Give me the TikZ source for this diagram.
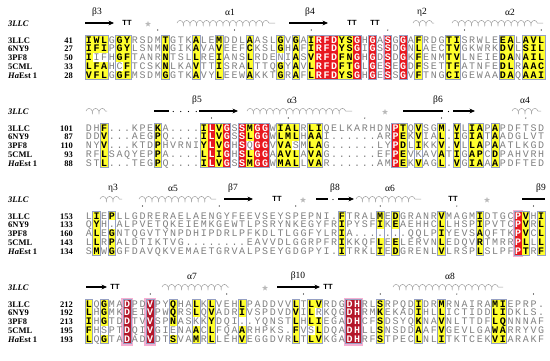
\documentclass[tikz,border=0pt]{standalone}
\usepackage{fontspec}
\setmainfont{Liberation Serif}
\newfontfamily\seqfont{Liberation Mono}
\newfontfamily\ttsans{Liberation Sans}
\usetikzlibrary{decorations.pathmorphing,shapes.geometric,arrows.meta}
\definecolor{ygl}{RGB}{255,255,45}
\definecolor{idred}{RGB}{232,24,32}
\definecolor{idredd}{RGB}{180,22,42}
\definecolor{pinkh}{RGB}{246,175,210}
\definecolor{frm}{RGB}{150,160,195}
\definecolor{gtxt}{RGB}{128,128,128}
\tikzset{
 nres/.style={inner sep=0pt,anchor=base,font=\seqfont\fontsize{10}{10}\selectfont,text=gtxt},
 bres/.style={inner sep=0pt,anchor=base,font=\seqfont\bfseries\fontsize{10}{10}\selectfont,text=black},
 wres/.style={inner sep=0pt,anchor=base,font=\seqfont\bfseries\fontsize{10}{10}\selectfont,text=white},
 namest/.style={inner sep=0pt,anchor=base west,font=\bfseries\fontsize{8.5}{8.5}\selectfont},
 numst/.style={inner sep=0pt,anchor=base east,font=\bfseries\fontsize{8.5}{8.5}\selectfont},
 hlx/.style={gray!75,line width=0.5pt,decorate,decoration={coil,amplitude=2.6pt,segment length=6.6pt,aspect=0.55}},
 strandarrow/.style={line width=1.4pt,-{Stealth[length=5.5pt,width=4.8pt]}},
 strandline/.style={line width=1.4pt},
 sslabel/.style={inner sep=0pt,font=\fontsize{9.5}{9.5}\selectfont},
 ttst/.style={inner sep=0pt,font=\ttsans\bfseries\fontsize{7.5}{7.5}\selectfont},
 starst/.style={star,star points=5,star point ratio=2.3,fill=gray!55,draw=none,inner sep=0pt,minimum size=6pt},
}
\newcount\colidx
\def\rowy{0}
\def\redcol{idred}
\def\drawcell#1#2{%
  \pgfmathsetmacro\cx{85+(\the\colidx-0.5)*7.667}%
  \if.#1\relax
    \node[nres] at (\cx,\rowy+3.0) {.};%
  \else
    \if y#2\relax
      \fill[ygl] (\cx-3.8335,\rowy-4.4) rectangle (\cx+3.8335,\rowy+4.4);%
      \node[bres] at (\cx,\rowy+3.0) {#1};%
    \else\if r#2\relax
      \fill[\redcol] (\cx-3.8335,\rowy-4.4) rectangle (\cx+3.8335,\rowy+4.4);%
      \node[wres] at (\cx,\rowy+3.0) {#1};%
    \else
      \node[nres] at (\cx,\rowy+3.0) {#1};%
    \fi\fi
  \fi}
\def\cellsA#1#2\relax#3#4\relax{%
  \advance\colidx by 1
  \drawcell{#1}{#3}%
  \ifx\relax#2\relax\else\cellsA#2\relax#4\relax\fi}
\newcommand\seqrow[5]{%
  \node[namest] at (8,#1+3) {#2};
  \node[numst] at (73,#1+3) {#3};
  \def\rowy{#1}\colidx=0
  \cellsA#4\relax#5\relax}
\newcommand\frames[2]{%
  \foreach \a/\b in {#2} {\draw[frm,line width=0.5pt] ({85+(\a-1)*7.667},#1-4.4) rectangle ({85+\b*7.667},#1+39.6);}}
\newcommand\halos[3]{%
  \foreach \a/\b in {#2} {\fill[pinkh] ({85+(\a-1)*7.667-#3},#1-4.4-#3) rectangle ({85+\b*7.667+#3},#1+39.6+#3);}}
\newcommand\tendots[2]{%
  \foreach \c in {#2} {\fill ({85+(\c-0.5)*7.667},#1+7) circle (0.6);}}
\begin{document}
\begin{tikzpicture}[x=1pt,y=-1pt]
\useasboundingbox (0,0) rectangle (550,360);
\fill[white] (0,0) rectangle (550,360);
%% ---------------- Block 1
\def\yh{23}
\node[namest,font=\bfseries\itshape\fontsize{8.5}{8.5}\selectfont] (h1) at (8,\yh+3) {3LLC};
\node[sslabel] (l13) at (97,12) {β3};
\draw[strandarrow] (85,\yh) -- (114,\yh);
\node[ttst] (t11) at (127,\yh) {TT};
\node[starst] (s11) at (148,\yh+1) {};
\draw[hlx] (177,\yh) -- (275,\yh);
\node[sslabel] (la1) at (230,12) {α1};
\draw[strandarrow] (289,\yh) -- (328,\yh);
\node[sslabel] (l14) at (310,12) {β4};
\node[ttst] (t12) at (352,\yh) {TT};
\node[ttst] (t13) at (375,\yh) {TT};
\draw[hlx] (413,\yh) -- (434,\yh);
\node[sslabel] (le2) at (422,12) {η2};
\draw[hlx] (452,\yh) -- (543,\yh);
\node[sslabel] (la2) at (510,12) {α2};
\tendots{\yh}{10,20,30,40,50,60}
\def\redcol{idred}
\halos{40}{31/33,36/36,38/38,40/40,42/42}{0.8}
\seqrow{40}{3LLC}{41}{IWLGGYRSDM TGTKALEMDD LAASLGVGAI RFDYSGHGAS GGAFRDGTIS RWLEEALAVL}{yyynyynnnn ynnnynnynn nynnnynyny rrryyrnrnr nrnynnnyyn nnnnyynyyy}
\seqrow{48.8}{6NY9}{27}{IFIPGYLSNM NGIKAVAVEE FCKSLGHAFI RFDYSGIGSS DGNLAECTVG KWRKDVLSIL}{yyynyynnnn ynnnynnynn nynnnynyny rrryyrnrnr nrnynnnyyn nnnnyynyyy}
\seqrow{57.6}{3PF8}{50}{IIFHGFTANR NTSLLREIAN SLRDENIASV RFDFNGHGDS DGKFENMTVL NEIEDANAIL}{ynnnyynnnn ynnnynnynn nynnnnnyny rrryyrnrnr nrnynnnyyn nnnnyynyyy}
\seqrow{66.4}{5CML}{33}{LFAHCFTCSK NLKAVTTISR ALTTQGYAVL RFDFTGLGES EGDFSETTFA TNFEDLRAAC}{yyynnynnnn ynnnynnynn nynnnynyny rrryyrnrnr nrnynnnyyn nnnnyynyyy}
\seqrow{75.2}{\textit{Ha}Est 1}{28}{VFLGGFMSDM GGTKAVYLEE WAKKTGRAFL RFDYSGHGES SGVFTNGCIG EWAADAQAAI}{yyynyynnnn ynnnynnynn nynnnynyny rrryyrnrnr nrnynnnyyn nnnnyynyyy}
\frames{40}{1/3,5/6,11/11,15/15,18/18,22/22,26/26,28/28,30/36,38/38,40/40,42/42,44/44,48/49,55/56,58/60}
%% ---------------- Block 2
\def\yh{111}
\node[namest,font=\bfseries\itshape\fontsize{8.5}{8.5}\selectfont] (h2) at (8,\yh+3) {3LLC};
\draw[hlx] (86,\yh) -- (107,\yh);
\draw[strandline] (154,\yh) -- (169,\yh);
\foreach \c in {12,...,15} {\fill ({85+(\c-0.5)*7.667},\yh+0.5) circle (0.6);}
\draw[strandarrow] (199,\yh) -- (238,\yh);
\node[sslabel] (l25) at (197,100) {β5};
\draw[hlx] (247,\yh) -- (352,\yh);
\node[sslabel] (la3) at (292,100) {α3};
\node[starst] (s21) at (385,\yh+1) {};
\draw[strandline] (403,\yh) -- (443,\yh);
\fill (448.5,\yh+0.5) circle (0.6);
\draw[strandarrow] (453,\yh) -- (475,\yh);
\node[sslabel] (l26) at (438,100) {β6};
\draw[hlx] (512,\yh) -- (541,\yh);
\node[sslabel] (la4) at (525,100) {α4};
\tendots{\yh}{17,27,37,47,58}
\halos{128}{17/17,19/19,21/21,23/24,41/41}{0.8}
\seqrow{128}{3LLC}{101}{DHF...KPEK A....ILVGS SMGGWIALRL IQELKARHDN PTQVSGM.VL IAPAPDFTSD}{nnynnnnnny nnnnnyryrn ryrrnyyyny ynnnnnnnnn rynynnynyn yynynnnnnn}
\seqrow{136.8}{6NY9}{87}{DDV...AEGP Q....ILVGS SLGGWLMLHA AI......AR PEKVIAL.IG IATAADGLVT}{nnynnnnnny nnnnnyryrn ryrrnyyyny ynnnnnnnnn rynynnynyn yynynnnnnn}
\seqrow{145.6}{3PF8}{110}{NYV...KTDP HVRNIYLVGH SQGGVVASML AG......LY PDLIKKV.VL LAPAATLKGD}{nnynnnnnny nnnnnyryrn rnrrnyynny ynnnnnnnnn rynynnynyn yynynnnnnn}
\seqrow{154.4}{5CML}{93}{RFLSAQYEPP A....LLIGH SLGGAAVLAV AG......EF PEVKAVATIG APCDPAHVRH}{nnynnnnnny nnnnnyryrn ryrrnyyyny ynnnnnnnnn rynnnnynyn yynynnnnnn}
\seqrow{163.2}{\textit{Ha}Est 1}{88}{STL...TEGP Q....ILVGS SMGGWMALLV AR......AM PEKVAGL.VG IAAAPDFTED}{nnynnnnnny nnnnnyryrn ryrrnyyyny ynnnnnnnnn rynynnynyn yynynnnnnn}
\frames{128}{3/3,10/10,16/19,21/24,26/28,30/31,41/42,44/44,47/47,49/49,51/52,54/54}
%% ---------------- Block 3
\def\yh{199}
\node[namest,font=\bfseries\itshape\fontsize{8.5}{8.5}\selectfont] (h3) at (8,\yh+3) {3LLC};
\draw[hlx] (100,\yh) -- (122,\yh);
\node[sslabel] (le3) at (113,188) {η3};
\draw[hlx] (139,\yh) -- (216,\yh);
\node[sslabel] (la5) at (173,188) {α5};
\draw[strandarrow] (224,\yh) -- (253,\yh);
\node[sslabel] (l37) at (233,188) {β7};
\node[ttst] (t31) at (277,\yh) {TT};
\node[starst] (s31) at (303,\yh+1) {};
\draw[strandline] (316,\yh) -- (328,\yh);
\fill (333,\yh+0.5) circle (0.6);
\draw[strandarrow] (338,\yh) -- (354,\yh);
\node[sslabel] (l38) at (335,188) {β8};
\draw[hlx] (356,\yh) -- (421,\yh);
\node[sslabel] (la6) at (390,188) {α6};
\node[ttst] (t32) at (453,\yh) {TT};
\node[starst] (s32) at (487,\yh+1) {};
\draw[strandline] (522,\yh) -- (545,\yh);
\node[sslabel] (l39) at (541,188) {β9};
\tendots{\yh}{8,18,28,39,49,59}
\halos{216}{57/57}{1.4}
\seqrow{216}{3LLC}{153}{LIEPLLGDRE RAELAENGYF EEVSEYSPEP NI.FTRALME DGRANRVMAG MIDTGCPVHI}{nynynnnnnn nnnnnnnnnn nnnnnnnnnn nnnynnnnyn ynnnnnynnn nynnnnryny}
\seqrow{224.8}{6NY9}{133}{QYH.ALPVET QKEIEMKGEW TLPSRYNKEG YFRIPYSFIK EAEHHCLLHS PIPVTCPVRL}{nynynnnnnn nnnnnnnnnn nnnnnnnnnn nnnynnnnyn ynnnnnynnn nynnnnryny}
\seqrow{233.6}{3PF8}{160}{ALEGNTQGVT YNPDHIPDRL PFKDLTLGGF YLRIA..... ..QQLPIYEV SAQFTKPVCL}{nynynnnnnn nnnnnnnnnn nnnnnnnnnn nnnynnnnyn ynnnnnynnn nynnnnryny}
\seqrow{242.4}{5CML}{143}{LLRPALDTIK TVG....... .EAVVDLGGR PFRIKKQFLE ELERVNLEDQ VRTMRRPLLL}{nynynnnnnn nnnnnnnnnn nnnnnnnnnn nnnynnnnyn ynnnnnynnn nynnnnryny}
\seqrow{251.2}{\textit{Ha}Est 1}{134}{SMWGGFDAVQ KVEMAETGRV ALPSEYGDGP YI.ITRKLIE DGRENLVLRS PLSLPFPTRF}{nynynnnnnn nnnnnnnnnn nnnnnnnnnn nnnynnnnyn ynnnnnynnn nynnnnryny}
\frames{216}{2/2,4/4,34/34,39/39,41/41,47/47,52/52,57/58,60/60}
%% ---------------- Block 4
\def\yh{287}
\node[namest,font=\bfseries\itshape\fontsize{8.5}{8.5}\selectfont] (h4) at (8,\yh+3) {3LLC};
\draw[strandarrow] (86,\yh) -- (107,\yh);
\node[ttst] (t41) at (115,\yh) {TT};
\draw[hlx] (162,\yh) -- (229,\yh);
\node[sslabel] (la7) at (192,276) {α7};
\node[starst] (s41) at (265,\yh+1) {};
\draw[strandarrow] (277,\yh) -- (320,\yh);
\node[sslabel] (l410) at (298,276) {β10};
\node[ttst] (t42) at (328,\yh) {TT};
\draw[hlx] (393,\yh) -- (503,\yh);
\node[sslabel] (la8) at (450,276) {α8};
\tendots{\yh}{9,19,29,39,49,59}
\def\redcol{idredd}
\halos{304}{6/6,9/9,35/36}{2.0}
\seqrow{304}{3LLC}{212}{LQGMADPDVP YQHALKLVEH LPADDVVLTL VRDGDHRLSR PQDIDRMRNA IRAMIEPRP.}{ynynnrnnrn nynnynynnn ynnnnnnyny ynnnrrnnyn nnnynnynnn nnnyynnnnn}
\seqrow{312.8}{6NY9}{192}{LHGMKDEIVP WQRSLQVADR IVSPDVDVIL RKQGDHRMKE KADIHLLICT IDDLIDKLS.}{ynynnrnnrn nynnynynnn ynnnnnnyny nnnnrrnnyn nnnynnynnn nnnyynnnnn}
\seqrow{321.6}{3PF8}{213}{IHGTDDTVVS PNASKKYDQI ..YQNSTLHL IEGADHCFSD SYQKNAVNLT TDFLQNNNAF}{ynynnrnnrn nynnnnynnn ynnnnnnyny ynnnrrnnyn nnnynnynnn nnnyynnnnn}
\seqrow{330.4}{5CML}{195}{FHSPTDQIVG IENAACLFQA ARHPKS.FVS LDQADHLLSN SDDAAFVGEV LGAWARRYVG}{ynnnnrnnrn nnnnynynnn ynnnnnnynn ynnnrrnnyn nnnynnynnn nnnyynnnnn}
\seqrow{339.2}{\textit{Ha}Est 1}{193}{LQGTADADVD TSVAMRLLEH VEGGDVRLTL VKGADHRFST PECLNLITKT CEKVIARAKF}{ynynnrnnrn nynnynynnn ynnnnnnyny ynnnrrnnyn nnnynnynnn nnnyynnnnn}
\frames{304}{1/1,3/3,6/6,9/9,12/12,15/15,17/17,21/21,28/28,30/31,35/36,39/39,44/44,47/47,54/55}
\end{tikzpicture}
\end{document}
